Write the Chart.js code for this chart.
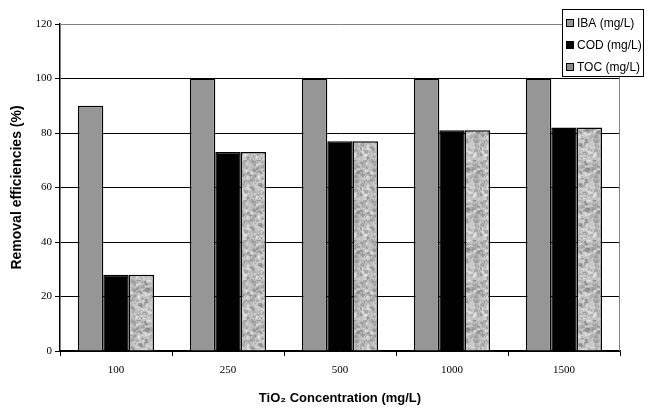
<!DOCTYPE html>
<html>
<head>
<meta charset="utf-8">
<script src="https://cdn.jsdelivr.net/npm/chart.js@4/dist/chart.umd.min.js"></script>
<style>
  html, body { margin: 0; padding: 0; background: #fff; }
  #wrap { width: 652px; height: 410px; }
</style>
</head>
<body>
<div id="wrap"><canvas id="removal"></canvas></div>
<script>
const concentrations = ["100", "250", "500", "1000", "1500"];
const ibaValues = [90, 100, 100, 100, 100];
const codValues = [28, 73, 77, 81, 82];
const tocValues = [28, 73, 77, 81, 82];
const yTicks = [0, 20, 40, 60, 80, 100, 120];

// mottled grey texture for the TOC bars (fixed seed so it looks the same every run)
function speckle() {
  const c = document.createElement("canvas");
  c.width = 40; c.height = 40;
  const g = c.getContext("2d");
  let s = 987;
  const rnd = () => { s = (s * 1103515245 + 12345) % 2147483648; return s / 2147483648; };
  g.fillStyle = "#c4c4c4";
  g.fillRect(0, 0, 40, 40);
  for (let i = 0; i < 420; i++) {
    const v = Math.floor(110 + rnd() * 140);
    g.fillStyle = `rgba(${v},${v},${v},0.55)`;
    g.beginPath();
    g.arc(rnd() * 40, rnd() * 40, 0.6 + rnd() * 1.6, 0, Math.PI * 2);
    g.fill();
  }
  return g.createPattern(c, "repeat");
}
const tocFill = speckle();
const swatchColors = ["#969696", "#000000", "#8a8a8a"];

const boxLegend = {
  id: "boxLegend",
  afterDraw(chart) {
    const ctx = chart.ctx;
    ctx.save();
    ctx.fillStyle = "#fff";
    ctx.fillRect(562, 9, 81, 67);
    ctx.strokeStyle = "#000";
    ctx.lineWidth = 1;
    ctx.strokeRect(562.5, 9.5, 81, 67);
    ctx.font = "12px 'Liberation Sans', Arial, sans-serif";
    ctx.textBaseline = "middle";
    chart.data.datasets.forEach((ds, i) => {
      const y = 23 + i * 22;
      ctx.fillStyle = swatchColors[i];
      ctx.fillRect(566, y - 4, 8, 8);
      ctx.strokeStyle = "#000";
      ctx.strokeRect(566.5, y - 3.5, 7, 7);
      ctx.fillStyle = "#000";
      ctx.fillText(ds.label, 577, y + 1);
    });
    ctx.restore();
  }
};

const frame = {
  id: "frame",
  beforeDatasetsDraw(chart) {
    const { ctx, chartArea: a } = chart;
    ctx.save();
    ctx.strokeStyle = "#808080";
    ctx.lineWidth = 1;
    ctx.beginPath();
    ctx.moveTo(a.left, a.top + 0.5);
    ctx.lineTo(a.right - 0.5, a.top + 0.5);
    ctx.lineTo(a.right - 0.5, a.bottom);
    ctx.stroke();
    ctx.restore();
  }
};

new Chart(document.getElementById("removal"), {
  type: "bar",
  data: {
    labels: concentrations,
    datasets: [
      { label: "IBA (mg/L)", data: ibaValues, backgroundColor: "#969696" },
      { label: "COD (mg/L)", data: codValues, backgroundColor: "#000000" },
      { label: "TOC (mg/L)", data: tocValues, backgroundColor: tocFill }
    ]
  },
  options: {
    responsive: true,
    maintainAspectRatio: false,
    animation: false,
    layout: { padding: { top: 24, right: 32, left: 0, bottom: 0 } },
    datasets: {
      bar: {
        borderColor: "#000",
        borderWidth: 1.5,
        categoryPercentage: 0.68,
        barPercentage: 1.0
      }
    },
    plugins: {
      legend: { display: false },
      tooltip: { enabled: false }
    },
    scales: {
      x: {
        afterFit: (s) => { s.height = 59; },
        grid: {
          offset: true,
          drawOnChartArea: false,
          color: "#000",
          tickLength: 5,
          tickColor: "#000"
        },
        border: { color: "#000", width: 1.5 },
        ticks: {
          color: "#000",
          padding: 8,
          font: { family: "'Liberation Serif', 'Times New Roman', serif", size: 11 }
        },
        title: {
          display: true,
          text: "TiO\u2082 Concentration (mg/L)",
          color: "#000",
          padding: { top: 10 },
          font: { family: "'Liberation Sans', Arial, sans-serif", size: 13, weight: "bold" }
        }
      },
      y: {
        min: 0,
        max: 120,
        afterFit: (s) => { s.width = 60; },
        afterBuildTicks: (s) => { s.ticks = yTicks.map((v) => ({ value: v })); },
        grid: {
          color: (c) => (c.tick.value === 120 ? "rgba(0,0,0,0)" : "#000"),
          lineWidth: 1,
          tickLength: 5,
          tickColor: "#000"
        },
        border: { color: "#000", width: 1.5 },
        ticks: {
          color: "#000",
          padding: 3,
          font: { family: "'Liberation Serif', 'Times New Roman', serif", size: 11 }
        },
        title: {
          display: true,
          text: "Removal efficiencies (%)",
          color: "#000",
          padding: { top: 9, bottom: 4 },
          font: { family: "'Liberation Sans', Arial, sans-serif", size: 14, weight: "bold" }
        }
      }
    }
  },
  plugins: [frame, boxLegend]
});
</script>
</body>
</html>
